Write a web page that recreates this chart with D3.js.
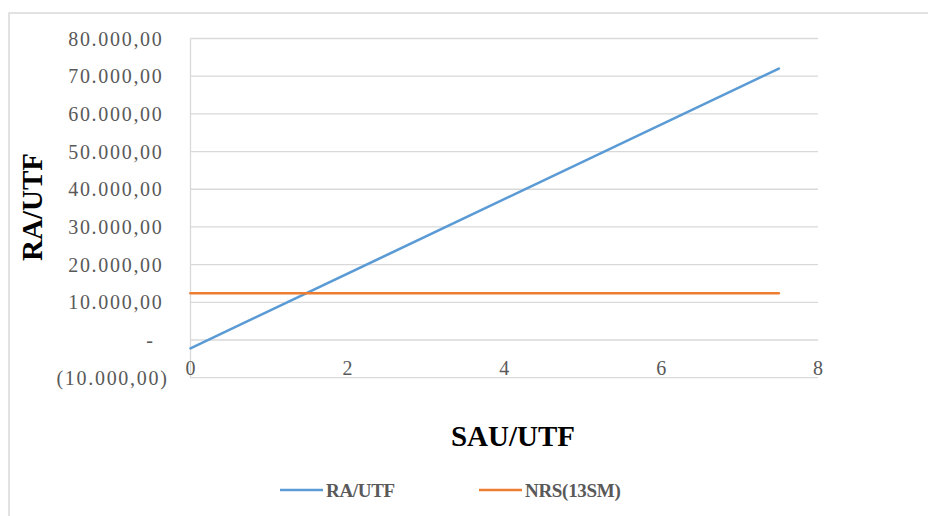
<!DOCTYPE html>
<html>
<head>
<meta charset="utf-8">
<script src="https://cdn.jsdelivr.net/npm/d3@7"></script>
<style>
  body { margin: 0; background: #fff; }
  svg { display: block; }
  .tick-label { font-family: "Liberation Serif", "Times New Roman", serif; font-size: 20px; fill: #595959; letter-spacing: 1.7px; }
  .title { font-family: "Liberation Serif", "Times New Roman", serif; font-size: 29px; font-weight: bold; fill: #000; }
  .legend-label { font-family: "Liberation Serif", "Times New Roman", serif; font-size: 19px; font-weight: bold; fill: #595959; letter-spacing: -0.3px; }
</style>
</head>
<body>
<div id="chart"></div>
<script>
// data
const sauUtf = [0, 7.5];
const raUtf = [-2200, 72000];
const nrs13sm = [12400, 12400];
const seriesNames = ['RA/UTF', 'NRS(13SM)'];
const seriesColors = ['#5B9BD5', '#ED7D31'];
const xTicks = [0, 2, 4, 6, 8];
const yTicks = [-10000, 0, 10000, 20000, 30000, 40000, 50000, 60000, 70000, 80000];

const W = 928, H = 516;
const margin = { top: 38.5, left: 190.5, right: 110, bottom: 138.3 };
const width = W - margin.left - margin.right;
const height = H - margin.top - margin.bottom;

const svg = d3.select('#chart').append('svg')
  .attr('width', W)
  .attr('height', H);

// chart frame
svg.append('rect')
  .attr('x', 9)
  .attr('y', 13)
  .attr('width', W + 20)
  .attr('height', H + 20)
  .attr('fill', 'none')
  .attr('stroke', '#d9d9d9')
  .attr('stroke-width', 1.5);

const g = svg.append('g')
  .attr('transform', `translate(${margin.left},${margin.top})`);

const x = d3.scaleLinear().domain([0, 8]).range([0, width]);
const y = d3.scaleLinear().domain([-10000, 80000]).range([height, 0]);

// gridlines
g.append('g')
  .selectAll('line')
  .data(yTicks)
  .enter()
  .append('line')
  .attr('x1', 0)
  .attr('x2', width)
  .attr('y1', d => y(d))
  .attr('y2', d => y(d))
  .attr('stroke', '#d9d9d9')
  .attr('stroke-width', 1.3);

// vertical axis line
g.append('line')
  .attr('x1', 0).attr('x2', 0)
  .attr('y1', 0).attr('y2', height)
  .attr('stroke', '#d9d9d9')
  .attr('stroke-width', 1.3);

// y tick labels, accounting style
const fmtNum = v => {
  if (v === 0) return '-';
  const s = d3.format(',.2f')(Math.abs(v)).replace(/,/g, 'X').replace('.', ',').replace(/X/g, '.');
  return v < 0 ? `(${s})` : s;
};
g.append('g')
  .selectAll('text')
  .data(yTicks)
  .enter()
  .append('text')
  .attr('class', 'tick-label')
  .attr('x', -22)
  .attr('dx', d => d < 0 ? 0 : (d === 0 ? -14 : -5))
  .attr('y', d => y(d))
  .attr('dy', '0.35em')
  .attr('text-anchor', 'end')
  .text(fmtNum);

// x tick labels
g.append('g')
  .selectAll('text')
  .data(xTicks)
  .enter()
  .append('text')
  .attr('class', 'tick-label')
  .attr('x', d => x(d))
  .attr('y', y(-10000) - 3)
  .attr('text-anchor', 'middle')
  .style('letter-spacing', '0px')
  .text(d => d);

// lines
const series = [raUtf, nrs13sm];
const line = d3.line()
  .x(d => x(d[0]))
  .y(d => y(d[1]));

series.forEach((vals, i) => {
  g.append('path')
    .datum(sauUtf.map((s, j) => [s, vals[j]]))
    .attr('d', line)
    .attr('fill', 'none')
    .attr('stroke', seriesColors[i])
    .attr('stroke-width', 2.6)
    .attr('stroke-linecap', 'round');
});

// axis titles
svg.append('text')
  .attr('class', 'title')
  .attr('text-anchor', 'middle')
  .attr('transform', 'translate(42,207) rotate(-90)')
  .text('RA/UTF');

svg.append('text')
  .attr('class', 'title')
  .attr('text-anchor', 'middle')
  .attr('x', 513)
  .attr('y', 446)
  .text('SAU/UTF');

// legend
const legendX = [280, 479];
const legend = svg.append('g');
seriesNames.forEach((name, i) => {
  legend.append('line')
    .attr('x1', legendX[i])
    .attr('x2', legendX[i] + 43)
    .attr('y1', 490)
    .attr('y2', 490)
    .attr('stroke', seriesColors[i])
    .attr('stroke-width', 2.6);
  legend.append('text')
    .attr('class', 'legend-label')
    .attr('x', legendX[i] + 46)
    .attr('y', 490)
    .attr('dy', '0.35em')
    .text(name);
});
</script>
</body>
</html>
